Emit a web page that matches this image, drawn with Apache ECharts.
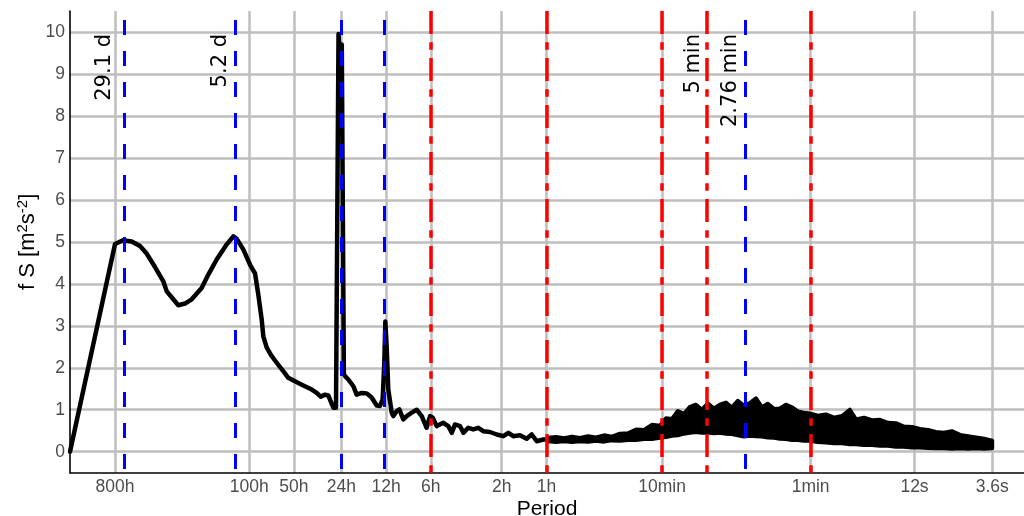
<!DOCTYPE html>
<html>
<head>
<meta charset="utf-8">
<script src="https://cdn.jsdelivr.net/npm/echarts@6/dist/echarts.min.js"></script>
<style>
  html, body { margin: 0; padding: 0; background: #ffffff; }
  #chart { width: 1024px; height: 516px; }
</style>
</head>
<body>
<div id="chart"></div>
<script>
// Horizontal axis: log10 of frequency in cycles per hour (a 1 h period sits at 0).
const tickPeriodsH = [800, 100, 50, 24, 12, 6, 2, 1, 1 / 6, 1 / 60, 1 / 300, 0.001];
const tickLabels = ['800h', '100h', '50h', '24h', '12h', '6h', '2h', '1h', '10min', '1min', '12s', '3.6s'];
const yTicks = [0, 1, 2, 3, 4, 5, 6, 7, 8, 9, 10];

// Smoothed low-frequency part of the variance-preserving spectrum
const spectrumLogF = [
  -3.206, -2.903, -2.849, -2.791, -2.735, -2.690, -2.634, -2.578, -2.555, -2.522,
  -2.477, -2.432, -2.387, -2.320, -2.275, -2.219, -2.151, -2.107, -2.084, -2.040,
  -1.995, -1.961, -1.939, -1.916, -1.905, -1.882, -1.849, -1.815, -1.771, -1.737,
  -1.692, -1.636, -1.579, -1.546, -1.519, -1.490, -1.468, -1.434, -1.416, -1.399,
  -1.387, -1.377, -1.363, -1.355, -1.333, -1.299, -1.277, -1.243, -1.209, -1.176,
  -1.142, -1.120, -1.102, -1.091, -1.084, -1.075, -1.064, -1.041, -1.030, -1.007,
  -0.990, -0.963, -0.940, -0.906, -0.873, -0.839, -0.806, -0.783, -0.765, -0.738,
  -0.694, -0.660, -0.637, -0.615, -0.581, -0.559, -0.526, -0.492, -0.458, -0.425,
  -0.380, -0.334, -0.290, -0.256, -0.223, -0.178, -0.133, -0.099, -0.065, -0.021,
  0.011
];
const spectrumVal = [
  0.00, 4.95, 5.04, 5.01, 4.90, 4.72, 4.40, 4.06, 3.82, 3.68,
  3.49, 3.53, 3.63, 3.90, 4.22, 4.58, 4.94, 5.13, 5.07, 4.82,
  4.46, 4.25, 3.75, 3.15, 2.75, 2.48, 2.28, 2.12, 1.92, 1.76,
  1.68, 1.58, 1.48, 1.40, 1.31, 1.36, 1.34, 1.05, 1.05, 9.95,
  9.20, 9.70, 1.85, 1.80, 1.72, 1.56, 1.36, 1.40, 1.39, 1.29,
  1.10, 1.09, 1.25, 2.12, 3.10, 2.51, 1.48, 0.93, 0.85, 0.97,
  1.01, 0.77, 0.85, 0.93, 1.00, 0.85, 0.57, 0.85, 0.81, 0.61,
  0.69, 0.61, 0.45, 0.65, 0.61, 0.45, 0.57, 0.53, 0.57, 0.49,
  0.47, 0.41, 0.37, 0.45, 0.37, 0.39, 0.31, 0.41, 0.25, 0.29,
  0.29
];

// Noisy high-frequency part: lower and upper envelope of the raw estimate
const bandLogF = [
  0.011, 0.065, 0.118, 0.172, 0.226, 0.280, 0.334, 0.388, 0.441, 0.495,
  0.549, 0.603, 0.657, 0.710, 0.764, 0.805, 0.845, 0.885, 0.925, 0.966,
  1.006, 1.047, 1.087, 1.127, 1.168, 1.208, 1.248, 1.288, 1.329, 1.369,
  1.410, 1.450, 1.490, 1.531, 1.571, 1.612, 1.652, 1.692, 1.733, 1.773,
  1.827, 1.881, 1.935, 1.989, 2.042, 2.083, 2.137, 2.191, 2.245, 2.298,
  2.352, 2.406, 2.460, 2.514, 2.568, 2.621, 2.675, 2.729, 2.783, 2.837,
  2.891, 2.945, 3.000
];
const bandLow = [
  0.25, 0.23, 0.25, 0.23, 0.25, 0.24, 0.26, 0.24, 0.27, 0.26,
  0.28, 0.28, 0.30, 0.30, 0.33, 0.35, 0.38, 0.39, 0.43, 0.45,
  0.47, 0.45, 0.46, 0.44, 0.45, 0.43, 0.42, 0.39, 0.36, 0.38,
  0.37, 0.36, 0.34, 0.33, 0.31, 0.30, 0.28, 0.28, 0.26, 0.26,
  0.23, 0.22, 0.20, 0.20, 0.18, 0.18, 0.16, 0.16, 0.14, 0.14,
  0.12, 0.12, 0.10, 0.10, 0.09, 0.08, 0.08, 0.07, 0.08, 0.07,
  0.08, 0.07, 0.08
];
const bandHigh = [
  0.33, 0.35, 0.32, 0.36, 0.33, 0.37, 0.34, 0.39, 0.36, 0.43,
  0.44, 0.53, 0.52, 0.64, 0.62, 0.80, 0.78, 0.97, 0.90, 1.07,
  1.12, 1.00, 1.15, 1.03, 1.12, 1.17, 1.05, 1.21, 1.10, 1.16,
  1.27, 1.06, 1.14, 1.02, 1.03, 1.12, 1.06, 0.96, 0.93, 0.91,
  0.86, 0.89, 0.81, 0.85, 1.00, 0.77, 0.81, 0.75, 0.76, 0.69,
  0.68, 0.60, 0.59, 0.54, 0.52, 0.47, 0.45, 0.49, 0.40, 0.37,
  0.34, 0.31, 0.26
];

// Reference periods (hours): blue = physical periods, red = sampling marks
const bluePeriodsH = [698.4, 124.8, 24, 12.42, 0.046];
const blueLabels = ['29.1 d', '5.2 d', '', '', '2.76 min'];
const redPeriodsH = [6, 1, 1 / 6, 1 / 12, 1 / 60];
const redLabels = ['', '', '', '5 min', ''];

const toLogF = (periodH) => -Math.log10(periodH);
const tickLogF = tickPeriodsH.map(toLogF);

const X_MIN = -3.206, X_MAX = 3.214;
const Y_MIN = -0.5, Y_MAX = 10.5;

const GRID_COLOR = '#bebebe';
const TICK_COLOR = '#4d4d4d';
const AXIS_FONT = 'Liberation Sans';

// Horizontal shift (px) of each rotated label relative to its line
const labelShift = { '29.1 d': -19, '5.2 d': -14, '5 min': -13, '2.76 min': -15 };

const refLines = [];
const annotations = [];
bluePeriodsH.forEach((p, i) => {
  refLines.push({ u: toLogF(p), kind: 'blue' });
  if (blueLabels[i]) annotations.push({ u: toLogF(p), text: blueLabels[i] });
});
redPeriodsH.forEach((p, i) => {
  refLines.push({ u: toLogF(p), kind: 'red' });
  if (redLabels[i]) annotations.push({ u: toLogF(p), text: redLabels[i] });
});

const lineStyles = {
  blue: { color: '#0000ff', width: 3, type: [15, 16], dashOffset: 22 },
  red: { color: '#ff0000', width: 3.5, type: [23, 8.3, 7.4, 8.3], dashOffset: 0 }
};

const markLineData = refLines.map(r => [
  { coord: [r.u, Y_MAX], lineStyle: Object.assign({}, lineStyles[r.kind]) },
  { coord: [r.u, Y_MIN] }
]);

const chart = echarts.init(document.getElementById('chart'), null, { renderer: 'canvas' });

chart.setOption({
  animation: false,
  backgroundColor: '#ffffff',
  grid: { left: 70, right: 0, top: 11, bottom: 43.3, containLabel: false, outerBoundsMode: 'none' },
  xAxis: {
    type: 'value',
    min: X_MIN,
    max: X_MAX,
    name: 'Period',
    nameLocation: 'middle',
    nameGap: 26,
    nameMoveOverlap: false,
    nameTextStyle: { fontFamily: AXIS_FONT, fontSize: 21, color: '#000000' },
    axisLine: { show: true, onZero: false, lineStyle: { color: '#000000', width: 1.6 } },
    axisTick: { show: false, customValues: tickLogF },
    axisLabel: {
      customValues: tickLogF,
      margin: 5,
      fontFamily: AXIS_FONT,
      fontSize: 17.5,
      color: TICK_COLOR,
      formatter: function (v) {
        const i = tickLogF.findIndex(t => Math.abs(t - v) < 1e-6);
        return i >= 0 ? tickLabels[i] : '';
      }
    },
    splitLine: { show: true, lineStyle: { color: GRID_COLOR, width: 2.5 } }
  },
  yAxis: {
    type: 'value',
    min: Y_MIN,
    max: Y_MAX,
    name: '{a|f S [m}{s|2}{a|s}{s|-2}{a|]}',
    nameLocation: 'middle',
    nameRotate: 90,
    nameGap: 31,
    nameMoveOverlap: false,
    nameTextStyle: {
      fontFamily: AXIS_FONT,
      color: '#000000',
      rich: {
        a: { fontFamily: AXIS_FONT, fontSize: 22, color: '#000000', verticalAlign: 'bottom' },
        s: { fontFamily: AXIS_FONT, fontSize: 15, color: '#000000', verticalAlign: 'top', padding: [0, 0, 9, 0] }
      }
    },
    axisLine: { show: true, onZero: false, lineStyle: { color: '#000000', width: 1.6 } },
    axisTick: { show: false, customValues: yTicks },
    axisLabel: {
      customValues: yTicks,
      margin: 5,
      fontFamily: AXIS_FONT,
      fontSize: 17.5,
      color: TICK_COLOR
    },
    splitLine: { show: true, lineStyle: { color: GRID_COLOR, width: 2.5 } }
  },
  series: [
    {
      name: 'spectrum',
      type: 'line',
      data: spectrumLogF.map((u, i) => [u, spectrumVal[i]]),
      showSymbol: false,
      symbol: 'none',
      lineStyle: { color: '#000000', width: 4.5, join: 'round', cap: 'round' },
      z: 3,
      silent: true
    },
    {
      name: 'band',
      type: 'custom',
      data: bandLogF.map((u, i) => [u, bandLow[i], bandHigh[i]]),
      encode: { x: 0, y: [1, 2] },
      clip: false,
      z: 3,
      silent: true,
      renderItem: function (params, api) {
        if (params.dataIndex !== 0) return null;
        const pts = [];
        for (let i = 0; i < bandLogF.length; i++) pts.push(api.coord([bandLogF[i], bandHigh[i]]));
        for (let i = bandLogF.length - 1; i >= 0; i--) pts.push(api.coord([bandLogF[i], bandLow[i]]));
        return {
          type: 'polygon',
          shape: { points: pts },
          style: { fill: '#000000', stroke: '#000000', lineWidth: 4, lineJoin: 'round' }
        };
      }
    },
    {
      name: 'reference periods',
      type: 'line',
      data: [],
      z: 5,
      silent: true,
      markLine: {
        silent: true,
        symbol: ['none', 'none'],
        label: { show: false },
        emphasis: { disabled: true },
        data: markLineData
      }
    },
    {
      name: 'labels',
      type: 'custom',
      data: annotations.map(a => [a.u, 10]),
      encode: { x: 0, y: 1 },
      clip: false,
      z: 6,
      silent: true,
      renderItem: function (params, api) {
        const a = annotations[params.dataIndex];
        const pt = api.coord([api.value(0), api.value(1)]);
        return {
          type: 'text',
          x: pt[0] + labelShift[a.text],
          y: pt[1] + 2,
          rotation: Math.PI / 2,
          style: {
            text: a.text,
            fontFamily: 'DejaVu Sans',
            fontSize: 21,
            fill: '#000000',
            align: 'right',
            verticalAlign: 'middle'
          }
        };
      }
    }
  ]
});
</script>
</body>
</html>
